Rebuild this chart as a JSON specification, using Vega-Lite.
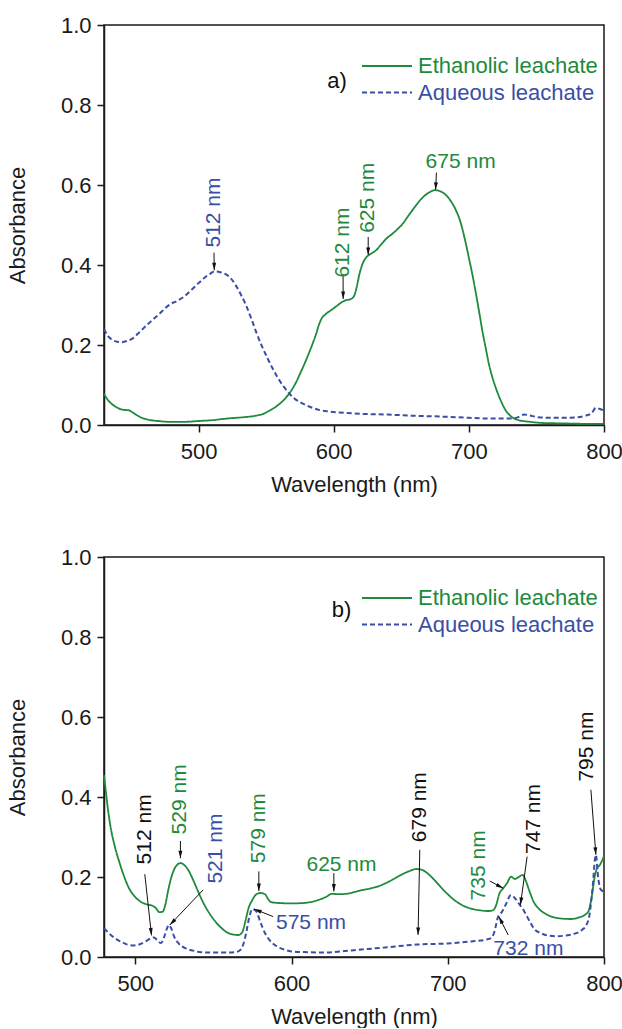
{
  "$schema": "https://vega.github.io/schema/vega-lite/v6.json",
  "autosize": {"type": "pad"},
  "padding": {"left": 5, "top": 13, "right": 0, "bottom": 0},
  "background": "white",
  "config": {
    "font": "Liberation Sans",
    "view": {"stroke": "#1a1a1a", "strokeWidth": 1.5},
    "axis": {"domainColor": "#1a1a1a", "domainWidth": 1.5, "tickColor": "#1a1a1a", "tickWidth": 1.5, "tickSize": 7, "labelFontSize": 22, "labelColor": "#1a1a1a", "titleFontSize": 22, "titleFontWeight": "normal", "titleColor": "#1a1a1a", "grid": false},
    "axisX": {"labelPadding": 9, "titlePadding": 12, "labelFlush": false},
    "axisY": {"labelPadding": 6, "titlePadding": 31},
    "text": {"font": "Liberation Sans"}
  },
  "datasets": {
    "a_eth": [
      {"nm":430,"abs":0.078},{"nm":433,"abs":0.062},{"nm":436,"abs":0.052},{"nm":440,"abs":0.043},{"nm":444,"abs":0.038},{"nm":448,"abs":0.037},{"nm":451,"abs":0.032},{"nm":454,"abs":0.025},{"nm":458,"abs":0.018},{"nm":463,"abs":0.013},{"nm":470,"abs":0.010},{"nm":478,"abs":0.008},{"nm":490,"abs":0.008},{"nm":500,"abs":0.010},{"nm":510,"abs":0.012},{"nm":518,"abs":0.015},{"nm":524,"abs":0.017},{"nm":528,"abs":0.018},{"nm":535,"abs":0.020},{"nm":542,"abs":0.023},{"nm":548,"abs":0.028},{"nm":552,"abs":0.035},{"nm":556,"abs":0.043},{"nm":560,"abs":0.053},{"nm":564,"abs":0.066},{"nm":568,"abs":0.083},{"nm":572,"abs":0.106},{"nm":576,"abs":0.135},{"nm":580,"abs":0.166},{"nm":584,"abs":0.200},{"nm":587,"abs":0.228},{"nm":589,"abs":0.250},{"nm":591,"abs":0.266},{"nm":594,"abs":0.277},{"nm":598,"abs":0.287},{"nm":602,"abs":0.297},{"nm":606,"abs":0.307},{"nm":609,"abs":0.312},{"nm":612,"abs":0.314},{"nm":615,"abs":0.322},{"nm":617,"abs":0.345},{"nm":619,"abs":0.377},{"nm":621,"abs":0.400},{"nm":624,"abs":0.419},{"nm":627,"abs":0.427},{"nm":631,"abs":0.436},{"nm":635,"abs":0.451},{"nm":639,"abs":0.466},{"nm":643,"abs":0.477},{"nm":647,"abs":0.489},{"nm":651,"abs":0.503},{"nm":655,"abs":0.522},{"nm":660,"abs":0.545},{"nm":665,"abs":0.566},{"nm":670,"abs":0.580},{"nm":675,"abs":0.587},{"nm":679,"abs":0.584},{"nm":683,"abs":0.575},{"nm":687,"abs":0.558},{"nm":690,"abs":0.540},{"nm":694,"abs":0.505},{"nm":697,"abs":0.465},{"nm":700,"abs":0.418},{"nm":702.5,"abs":0.378},{"nm":705,"abs":0.333},{"nm":708,"abs":0.275},{"nm":710,"abs":0.235},{"nm":712.5,"abs":0.192},{"nm":715,"abs":0.150},{"nm":717.5,"abs":0.118},{"nm":720,"abs":0.092},{"nm":723,"abs":0.066},{"nm":727,"abs":0.038},{"nm":731,"abs":0.022},{"nm":737,"abs":0.012},{"nm":745,"abs":0.008},{"nm":755,"abs":0.005},{"nm":770,"abs":0.004},{"nm":785,"abs":0.003},{"nm":800,"abs":0.003}
    ],
    "a_aq": [
      {"nm":430,"abs":0.240},{"nm":433,"abs":0.222},{"nm":436,"abs":0.213},{"nm":440,"abs":0.208},{"nm":443,"abs":0.207},{"nm":447,"abs":0.210},{"nm":451,"abs":0.216},{"nm":455,"abs":0.228},{"nm":459,"abs":0.241},{"nm":463,"abs":0.254},{"nm":467,"abs":0.266},{"nm":471,"abs":0.278},{"nm":475,"abs":0.291},{"nm":479,"abs":0.302},{"nm":484,"abs":0.310},{"nm":488,"abs":0.318},{"nm":492,"abs":0.329},{"nm":496,"abs":0.342},{"nm":500,"abs":0.355},{"nm":504,"abs":0.367},{"nm":508,"abs":0.377},{"nm":512,"abs":0.384},{"nm":516,"abs":0.382},{"nm":520,"abs":0.377},{"nm":524,"abs":0.366},{"nm":527,"abs":0.352},{"nm":531,"abs":0.328},{"nm":535,"abs":0.300},{"nm":539,"abs":0.266},{"nm":543,"abs":0.229},{"nm":547,"abs":0.196},{"nm":551,"abs":0.167},{"nm":555,"abs":0.140},{"nm":559,"abs":0.116},{"nm":563,"abs":0.096},{"nm":567,"abs":0.079},{"nm":571,"abs":0.066},{"nm":575,"abs":0.057},{"nm":580,"abs":0.049},{"nm":585,"abs":0.042},{"nm":590,"abs":0.037},{"nm":596,"abs":0.034},{"nm":602,"abs":0.032},{"nm":610,"abs":0.030},{"nm":620,"abs":0.028},{"nm":640,"abs":0.026},{"nm":660,"abs":0.023},{"nm":680,"abs":0.021},{"nm":700,"abs":0.018},{"nm":715,"abs":0.016},{"nm":730,"abs":0.016},{"nm":736,"abs":0.019},{"nm":741,"abs":0.026},{"nm":745,"abs":0.024},{"nm":750,"abs":0.020},{"nm":760,"abs":0.018},{"nm":770,"abs":0.018},{"nm":780,"abs":0.019},{"nm":787,"abs":0.024},{"nm":791,"abs":0.030},{"nm":794,"abs":0.043},{"nm":797,"abs":0.040},{"nm":800,"abs":0.036}
    ],
    "b_eth": [
      {"nm":480,"abs":0.455},{"nm":481,"abs":0.420},{"nm":482.5,"abs":0.370},{"nm":484,"abs":0.330},{"nm":487,"abs":0.275},{"nm":490,"abs":0.235},{"nm":493,"abs":0.200},{"nm":496,"abs":0.172},{"nm":500,"abs":0.150},{"nm":504,"abs":0.137},{"nm":508,"abs":0.131},{"nm":511,"abs":0.128},{"nm":513,"abs":0.123},{"nm":515.5,"abs":0.112},{"nm":517.5,"abs":0.113},{"nm":519.5,"abs":0.135},{"nm":521,"abs":0.165},{"nm":523,"abs":0.198},{"nm":525,"abs":0.220},{"nm":527,"abs":0.231},{"nm":529,"abs":0.235},{"nm":531,"abs":0.231},{"nm":534,"abs":0.217},{"nm":537,"abs":0.193},{"nm":540,"abs":0.166},{"nm":543,"abs":0.140},{"nm":547,"abs":0.112},{"nm":551,"abs":0.090},{"nm":555,"abs":0.073},{"nm":559,"abs":0.061},{"nm":563,"abs":0.056},{"nm":566,"abs":0.055},{"nm":568.5,"abs":0.062},{"nm":570.5,"abs":0.090},{"nm":572.5,"abs":0.122},{"nm":575,"abs":0.143},{"nm":577,"abs":0.155},{"nm":580,"abs":0.160},{"nm":583,"abs":0.157},{"nm":585,"abs":0.145},{"nm":587,"abs":0.137},{"nm":592,"abs":0.135},{"nm":600,"abs":0.134},{"nm":608,"abs":0.135},{"nm":615,"abs":0.140},{"nm":622,"abs":0.150},{"nm":626,"abs":0.158},{"nm":630,"abs":0.157},{"nm":635,"abs":0.158},{"nm":640,"abs":0.162},{"nm":645,"abs":0.167},{"nm":650,"abs":0.171},{"nm":655,"abs":0.176},{"nm":660,"abs":0.184},{"nm":665,"abs":0.194},{"nm":670,"abs":0.205},{"nm":675,"abs":0.214},{"nm":680,"abs":0.220},{"nm":684,"abs":0.217},{"nm":688,"abs":0.206},{"nm":692,"abs":0.190},{"nm":696,"abs":0.173},{"nm":700,"abs":0.157},{"nm":705,"abs":0.140},{"nm":710,"abs":0.128},{"nm":715,"abs":0.121},{"nm":720,"abs":0.117},{"nm":726,"abs":0.115},{"nm":729,"abs":0.117},{"nm":731,"abs":0.130},{"nm":733,"abs":0.158},{"nm":735.5,"abs":0.172},{"nm":738,"abs":0.185},{"nm":740.5,"abs":0.201},{"nm":743,"abs":0.195},{"nm":745,"abs":0.199},{"nm":748,"abs":0.205},{"nm":750,"abs":0.190},{"nm":752,"abs":0.168},{"nm":755,"abs":0.138},{"nm":759,"abs":0.118},{"nm":763,"abs":0.107},{"nm":768,"abs":0.099},{"nm":773,"abs":0.096},{"nm":779,"abs":0.095},{"nm":784,"abs":0.099},{"nm":788,"abs":0.106},{"nm":790,"abs":0.114},{"nm":792,"abs":0.147},{"nm":794,"abs":0.200},{"nm":795.5,"abs":0.222},{"nm":797.3,"abs":0.230},{"nm":800,"abs":0.252}
    ],
    "b_aq": [
      {"nm":480,"abs":0.072},{"nm":483,"abs":0.060},{"nm":487,"abs":0.047},{"nm":491,"abs":0.038},{"nm":495,"abs":0.031},{"nm":499,"abs":0.029},{"nm":503,"abs":0.032},{"nm":507,"abs":0.040},{"nm":510,"abs":0.047},{"nm":512,"abs":0.049},{"nm":514,"abs":0.042},{"nm":516.5,"abs":0.035},{"nm":518.5,"abs":0.050},{"nm":520,"abs":0.068},{"nm":521.5,"abs":0.080},{"nm":523,"abs":0.072},{"nm":525,"abs":0.050},{"nm":528,"abs":0.033},{"nm":532,"abs":0.022},{"nm":537,"abs":0.016},{"nm":542,"abs":0.012},{"nm":550,"abs":0.011},{"nm":558,"abs":0.011},{"nm":564,"abs":0.012},{"nm":567,"abs":0.017},{"nm":569,"abs":0.030},{"nm":571,"abs":0.060},{"nm":573,"abs":0.100},{"nm":575,"abs":0.120},{"nm":577.5,"abs":0.114},{"nm":580,"abs":0.088},{"nm":583,"abs":0.060},{"nm":586,"abs":0.042},{"nm":590,"abs":0.028},{"nm":595,"abs":0.019},{"nm":600,"abs":0.014},{"nm":610,"abs":0.012},{"nm":620,"abs":0.011},{"nm":640,"abs":0.017},{"nm":660,"abs":0.024},{"nm":680,"abs":0.031},{"nm":700,"abs":0.034},{"nm":715,"abs":0.039},{"nm":724,"abs":0.043},{"nm":728,"abs":0.048},{"nm":730,"abs":0.065},{"nm":732,"abs":0.098},{"nm":734.5,"abs":0.112},{"nm":737,"abs":0.130},{"nm":740.5,"abs":0.155},{"nm":743,"abs":0.147},{"nm":746,"abs":0.131},{"nm":749,"abs":0.114},{"nm":752,"abs":0.092},{"nm":755,"abs":0.072},{"nm":760,"abs":0.059},{"nm":765,"abs":0.053},{"nm":770,"abs":0.052},{"nm":776,"abs":0.054},{"nm":781,"abs":0.058},{"nm":786,"abs":0.068},{"nm":789,"abs":0.082},{"nm":790.5,"abs":0.100},{"nm":792.5,"abs":0.165},{"nm":794.8,"abs":0.255},{"nm":796.3,"abs":0.197},{"nm":798,"abs":0.168},{"nm":800,"abs":0.164}
    ],
    "a_vlab": [
      {"series":"Aqueous leachate","nm":511.4,"abs":0.531,"label":"512 nm"},
      {"series":"Ethanolic leachate","nm":606.9,"abs":0.456,"label":"612 nm"},
      {"series":"Ethanolic leachate","nm":625.5,"abs":0.568,"label":"625 nm"}
    ],
    "a_hlab": [
      {"series":"Ethanolic leachate","nm":693.9,"abs":0.658,"label":"675 nm"}
    ],
    "a_arr": [
      {"nm":511.4,"abs":0.431,"nm_tip":511.6,"abs_tip":0.387},
      {"nm":606.9,"abs":0.377,"nm_tip":607.0,"abs_tip":0.315},
      {"nm":625.5,"abs":0.470,"nm_tip":625.5,"abs_tip":0.425},
      {"nm":676.0,"abs":0.631,"nm_tip":675.4,"abs_tip":0.588}
    ],
    "a_tag": [{"nm":602.4,"abs":0.86,"label":"a)"}],
    "b_vlab": [
      {"series":"Both","nm":506.3,"abs":0.319,"label":"512 nm"},
      {"series":"Ethanolic leachate","nm":528.8,"abs":0.394,"label":"529 nm"},
      {"series":"Aqueous leachate","nm":551.8,"abs":0.271,"label":"521 nm"},
      {"series":"Ethanolic leachate","nm":579.2,"abs":0.322,"label":"579 nm"},
      {"series":"Both","nm":682.1,"abs":0.3745,"label":"679 nm"},
      {"series":"Ethanolic leachate","nm":720.0,"abs":0.229,"label":"735 nm"},
      {"series":"Both","nm":755.5,"abs":0.345,"label":"747 nm"},
      {"series":"Both","nm":789.3,"abs":0.526,"label":"795 nm"}
    ],
    "b_hlab": [
      {"series":"Aqueous leachate","nm":612.5,"abs":0.085,"label":"575 nm"},
      {"series":"Ethanolic leachate","nm":632.0,"abs":0.229,"label":"625 nm"},
      {"series":"Aqueous leachate","nm":751.6,"abs":0.020,"label":"732 nm"}
    ],
    "b_arr": [
      {"nm":506.1,"abs":0.207,"nm_tip":510.4,"abs_tip":0.054},
      {"nm":528.9,"abs":0.290,"nm_tip":528.9,"abs_tip":0.247},
      {"nm":543.5,"abs":0.168,"nm_tip":522.1,"abs_tip":0.080},
      {"nm":579.1,"abs":0.214,"nm_tip":579.1,"abs_tip":0.165},
      {"nm":588.2,"abs":0.101,"nm_tip":576.1,"abs_tip":0.120},
      {"nm":627.1,"abs":0.2096,"nm_tip":627.1,"abs_tip":0.164},
      {"nm":682.1,"abs":0.268,"nm_tip":681.0,"abs_tip":0.055},
      {"nm":726.9,"abs":0.190,"nm_tip":735.5,"abs_tip":0.172},
      {"nm":738.7,"abs":0.055,"nm_tip":732.7,"abs_tip":0.101},
      {"nm":750.8,"abs":0.251,"nm_tip":746.5,"abs_tip":0.130},
      {"nm":791.6,"abs":0.418,"nm_tip":794.8,"abs_tip":0.2555}
    ],
    "b_tag": [{"nm":632.0,"abs":0.868,"label":"b)"}]
  },
  "vconcat": [
    {
      "width": 500,
      "height": 400,
      "layer": [
        {
          "data": {"name": "a_eth"},
          "mark": {"type": "line", "interpolate": "monotone", "strokeWidth": 1.8},
          "encoding": {
            "x": {"field": "nm", "type": "quantitative", "title": "Wavelength (nm)", "scale": {"domain": [430, 800], "nice": false, "zero": false}, "axis": {"values": [500, 600, 700, 800]}},
            "y": {"field": "abs", "type": "quantitative", "title": "Absorbance", "scale": {"domain": [0, 1], "nice": false}, "axis": {"values": [0, 0.2, 0.4, 0.6, 0.8, 1], "format": ".1f"}},
            "color": {"datum": "Ethanolic leachate", "type": "nominal", "scale": {"domain": ["Ethanolic leachate", "Aqueous leachate"], "range": ["#1e8a3c", "#3a4ea6"]},
              "legend": {"title": null, "orient": "none", "legendX": 257, "legendY": 30, "direction": "vertical", "padding": 0, "symbolType": "M-1,0H4", "symbolSize": 400, "symbolStrokeWidth": 2, "labelFontSize": 22, "labelOffset": 35, "labelLimit": 400, "rowPadding": 4.5, "labelColor": {"expr": "datum.value === 'Aqueous leachate' ? '#3a4ea6' : '#1e8a3c'"}}},
            "strokeDash": {"datum": "Ethanolic leachate", "type": "nominal", "scale": {"domain": ["Ethanolic leachate", "Aqueous leachate"], "range": [[1, 0], [5, 3]]},
              "legend": {"title": null, "orient": "none", "legendX": 257, "legendY": 30, "direction": "vertical", "padding": 0, "symbolType": "M-1,0H4", "symbolSize": 400, "symbolStrokeWidth": 2, "labelFontSize": 22, "labelOffset": 35, "labelLimit": 400, "rowPadding": 4.5, "labelColor": {"expr": "datum.value === 'Aqueous leachate' ? '#3a4ea6' : '#1e8a3c'"}}}
          }
        },
        {
          "data": {"name": "a_aq"},
          "mark": {"type": "line", "interpolate": "monotone", "strokeWidth": 2},
          "encoding": {
            "x": {"field": "nm", "type": "quantitative", "title": "Wavelength (nm)"},
            "y": {"field": "abs", "type": "quantitative", "title": "Absorbance"},
            "color": {"datum": "Aqueous leachate", "type": "nominal"},
            "strokeDash": {"datum": "Aqueous leachate", "type": "nominal"}
          }
        },
        {
          "data": {"name": "a_arr"},
          "mark": {"type": "rule", "color": "#111111", "strokeWidth": 1},
          "encoding": {
            "x": {"field": "nm", "type": "quantitative", "title": "Wavelength (nm)"},
            "y": {"field": "abs", "type": "quantitative", "title": "Absorbance"},
            "x2": {"field": "nm_tip"},
            "y2": {"field": "abs_tip"}
          }
        },
        {
          "data": {"name": "a_arr"},
          "mark": {"type": "point", "shape": "M0,0L-0.8,3L0.8,3Z", "filled": true, "color": "#111111", "opacity": 1, "size": 25, "strokeWidth": 0, "angle": {"expr": "atan2((datum.nm_tip - datum.nm) * 1.3514, (datum.abs_tip - datum.abs) * 400) * 180 / PI"}},
          "encoding": {
            "x": {"field": "nm_tip", "type": "quantitative", "title": "Wavelength (nm)"},
            "y": {"field": "abs_tip", "type": "quantitative", "title": "Absorbance"}
          }
        },
        {
          "data": {"name": "a_vlab"},
          "mark": {"type": "text", "angle": 270, "fontSize": 21, "align": "center", "baseline": "middle"},
          "encoding": {
            "x": {"field": "nm", "type": "quantitative", "title": "Wavelength (nm)"},
            "y": {"field": "abs", "type": "quantitative", "title": "Absorbance"},
            "text": {"field": "label"},
            "color": {"condition": [{"test": "datum.series === 'Aqueous leachate'", "value": "#3a4ea6"}, {"test": "datum.series === 'Ethanolic leachate'", "value": "#1e8a3c"}], "value": "#111111"}
          }
        },
        {
          "data": {"name": "a_hlab"},
          "mark": {"type": "text", "fontSize": 21, "align": "center", "baseline": "middle"},
          "encoding": {
            "x": {"field": "nm", "type": "quantitative", "title": "Wavelength (nm)"},
            "y": {"field": "abs", "type": "quantitative", "title": "Absorbance"},
            "text": {"field": "label"},
            "color": {"condition": [{"test": "datum.series === 'Aqueous leachate'", "value": "#3a4ea6"}, {"test": "datum.series === 'Ethanolic leachate'", "value": "#1e8a3c"}], "value": "#111111"}
          }
        },
        {
          "data": {"name": "a_tag"},
          "mark": {"type": "text", "fontSize": 22, "align": "center", "baseline": "middle", "color": "#111111"},
          "encoding": {
            "x": {"field": "nm", "type": "quantitative", "title": "Wavelength (nm)"},
            "y": {"field": "abs", "type": "quantitative", "title": "Absorbance"},
            "text": {"field": "label"}
          }
        }
      ]
    },
    {
      "width": 500,
      "height": 400,
      "layer": [
        {
          "data": {"name": "b_eth"},
          "mark": {"type": "line", "interpolate": "monotone", "strokeWidth": 1.8},
          "encoding": {
            "x": {"field": "nm", "type": "quantitative", "title": "Wavelength (nm)", "scale": {"domain": [480, 800], "nice": false, "zero": false}, "axis": {"values": [500, 600, 700, 800]}},
            "y": {"field": "abs", "type": "quantitative", "title": "Absorbance", "scale": {"domain": [0, 1], "nice": false}, "axis": {"values": [0, 0.2, 0.4, 0.6, 0.8, 1], "format": ".1f"}},
            "color": {"datum": "Ethanolic leachate", "type": "nominal", "scale": {"domain": ["Ethanolic leachate", "Aqueous leachate"], "range": ["#1e8a3c", "#3a4ea6"]},
              "legend": {"title": null, "orient": "none", "legendX": 257, "legendY": 30, "direction": "vertical", "padding": 0, "symbolType": "M-1,0H4", "symbolSize": 400, "symbolStrokeWidth": 2, "labelFontSize": 22, "labelOffset": 35, "labelLimit": 400, "rowPadding": 4.5, "labelColor": {"expr": "datum.value === 'Aqueous leachate' ? '#3a4ea6' : '#1e8a3c'"}}},
            "strokeDash": {"datum": "Ethanolic leachate", "type": "nominal", "scale": {"domain": ["Ethanolic leachate", "Aqueous leachate"], "range": [[1, 0], [5, 3]]},
              "legend": {"title": null, "orient": "none", "legendX": 257, "legendY": 30, "direction": "vertical", "padding": 0, "symbolType": "M-1,0H4", "symbolSize": 400, "symbolStrokeWidth": 2, "labelFontSize": 22, "labelOffset": 35, "labelLimit": 400, "rowPadding": 4.5, "labelColor": {"expr": "datum.value === 'Aqueous leachate' ? '#3a4ea6' : '#1e8a3c'"}}}
          }
        },
        {
          "data": {"name": "b_aq"},
          "mark": {"type": "line", "interpolate": "monotone", "strokeWidth": 2},
          "encoding": {
            "x": {"field": "nm", "type": "quantitative", "title": "Wavelength (nm)"},
            "y": {"field": "abs", "type": "quantitative", "title": "Absorbance"},
            "color": {"datum": "Aqueous leachate", "type": "nominal"},
            "strokeDash": {"datum": "Aqueous leachate", "type": "nominal"}
          }
        },
        {
          "data": {"name": "b_arr"},
          "mark": {"type": "rule", "color": "#111111", "strokeWidth": 1},
          "encoding": {
            "x": {"field": "nm", "type": "quantitative", "title": "Wavelength (nm)"},
            "y": {"field": "abs", "type": "quantitative", "title": "Absorbance"},
            "x2": {"field": "nm_tip"},
            "y2": {"field": "abs_tip"}
          }
        },
        {
          "data": {"name": "b_arr"},
          "mark": {"type": "point", "shape": "M0,0L-0.8,3L0.8,3Z", "filled": true, "color": "#111111", "opacity": 1, "size": 25, "strokeWidth": 0, "angle": {"expr": "atan2((datum.nm_tip - datum.nm) * 1.5625, (datum.abs_tip - datum.abs) * 400) * 180 / PI"}},
          "encoding": {
            "x": {"field": "nm_tip", "type": "quantitative", "title": "Wavelength (nm)"},
            "y": {"field": "abs_tip", "type": "quantitative", "title": "Absorbance"}
          }
        },
        {
          "data": {"name": "b_vlab"},
          "mark": {"type": "text", "angle": 270, "fontSize": 21, "align": "center", "baseline": "middle"},
          "encoding": {
            "x": {"field": "nm", "type": "quantitative", "title": "Wavelength (nm)"},
            "y": {"field": "abs", "type": "quantitative", "title": "Absorbance"},
            "text": {"field": "label"},
            "color": {"condition": [{"test": "datum.series === 'Aqueous leachate'", "value": "#3a4ea6"}, {"test": "datum.series === 'Ethanolic leachate'", "value": "#1e8a3c"}], "value": "#111111"}
          }
        },
        {
          "data": {"name": "b_hlab"},
          "mark": {"type": "text", "fontSize": 21, "align": "center", "baseline": "middle"},
          "encoding": {
            "x": {"field": "nm", "type": "quantitative", "title": "Wavelength (nm)"},
            "y": {"field": "abs", "type": "quantitative", "title": "Absorbance"},
            "text": {"field": "label"},
            "color": {"condition": [{"test": "datum.series === 'Aqueous leachate'", "value": "#3a4ea6"}, {"test": "datum.series === 'Ethanolic leachate'", "value": "#1e8a3c"}], "value": "#111111"}
          }
        },
        {
          "data": {"name": "b_tag"},
          "mark": {"type": "text", "fontSize": 22, "align": "center", "baseline": "middle", "color": "#111111"},
          "encoding": {
            "x": {"field": "nm", "type": "quantitative", "title": "Wavelength (nm)"},
            "y": {"field": "abs", "type": "quantitative", "title": "Absorbance"},
            "text": {"field": "label"}
          }
        }
      ]
    }
  ],
  "spacing": 132,
  "bounds": "flush",
  "resolve": {"scale": {"color": "independent", "strokeDash": "independent"}}
}
